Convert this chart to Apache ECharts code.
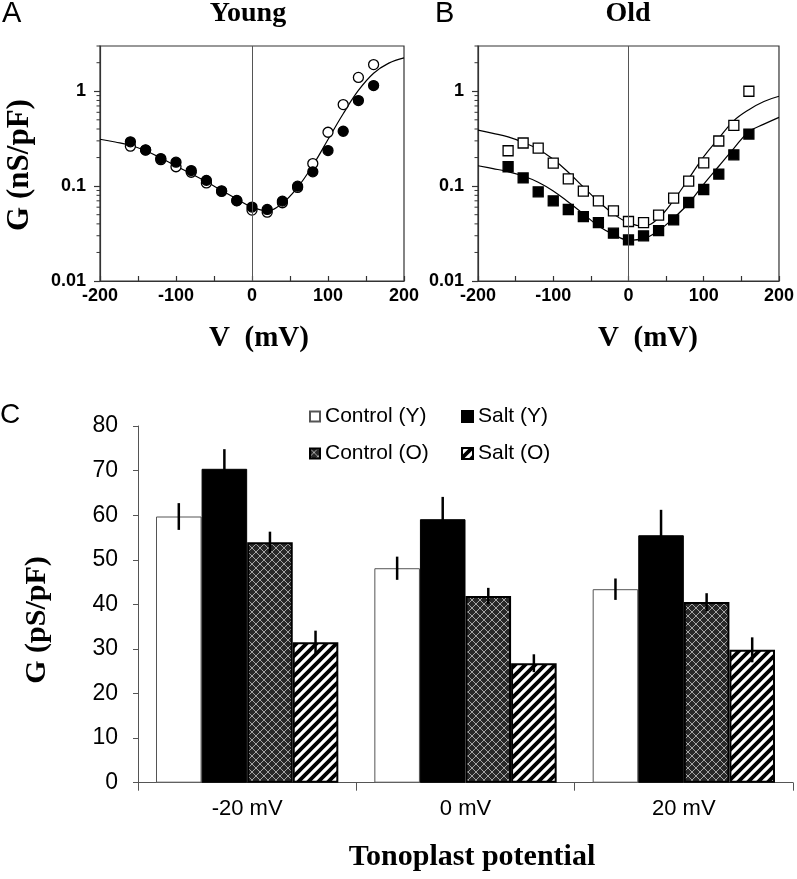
<!DOCTYPE html>
<html><head><meta charset="utf-8">
<script src="https://cdn.jsdelivr.net/npm/echarts@6/dist/echarts.min.js"></script>
<style>html,body{margin:0;padding:0;background:#fff}#c{width:797px;height:879px}</style>
</head><body><div id="c"></div>
<script>
// ---- Data: panels A & B (conductance vs voltage, log scale) ----
const voltages = [-160,-140,-120,-100,-80,-60,-40,-20,0,20,40,60,80,100,120,140,160];
const youngOpen   = [0.264,0.24,0.19,0.160,0.140,0.108,0.088,0.070,0.0559,0.0532,0.0668,0.0968,0.173,0.370,0.724,1.40,1.91];
const youngFilled = [0.293,0.241,0.195,0.179,0.146,0.115,0.0893,0.0706,0.0601,0.0568,0.0695,0.100,0.1415,0.237,0.379,0.798,1.147];
const oldOpen     = [0.236,0.285,0.252,0.175,0.119,0.0885,0.070,0.0549,0.0424,0.0413,0.0494,0.0747,0.113,0.176,0.299,0.438,1.0];
const oldFilled   = [0.160,0.122,0.0871,0.070,0.0567,0.0478,0.0413,0.0319,0.0271,0.0299,0.034,0.0441,0.0672,0.0922,0.134,0.214,0.354];
const fitV = [-200,-180,-160,-140,-120,-100,-80,-60,-40,-20,0,20,40,60,80,100,120,140,160,180,200];
const youngFit    = [0.312,0.292,0.270,0.236,0.198,0.163,0.135,0.111,0.090,0.073,0.060,0.055,0.066,0.097,0.165,0.31,0.58,1.02,1.55,1.98,2.25];
const oldFitUpper = [0.39,0.36,0.33,0.289,0.245,0.192,0.14,0.098,0.069,0.051,0.041,0.038,0.046,0.071,0.12,0.205,0.32,0.49,0.64,0.78,0.885];
const oldFitLower = [0.164,0.153,0.142,0.128,0.11,0.089,0.068,0.051,0.038,0.031,0.027,0.028,0.034,0.046,0.066,0.105,0.162,0.25,0.375,0.45,0.531];
const minorLogTicks = [0.02,0.03,0.04,0.05,0.06,0.07,0.08,0.09,0.2,0.3,0.4,0.5,0.6,0.7,0.8,0.9,2,3];

// ---- Data: panel C (bars) ----
const categories = ['-20 mV','0 mV','20 mV'];
const controlY = [59.7,48.1,43.4];   const controlYErr = [3.0,2.6,2.4];
const saltY    = [70.4,59.1,55.5];   const saltYErr    = [4.4,5.0,5.7];
const controlO = [53.9,41.9,40.5];   const controlOErr = [2.4,1.8,2.0];
const saltO    = [31.5,26.8,29.8];   const saltOErr    = [2.6,2.0,2.8];
const barNames = ['Control (Y)','Salt (Y)','Control (O)','Salt (O)'];

const pair = (xs, ys) => xs.map((x, i) => [x, ys[i]]);
const GAP = 0.165;

function crossPattern() {
  const c = document.createElement('canvas'); c.width = 8; c.height = 8;
  const g = c.getContext('2d');
  g.fillStyle = '#282828'; g.fillRect(0, 0, 8, 8);
  g.strokeStyle = '#c4c4c4'; g.lineWidth = 0.8;
  g.beginPath(); g.moveTo(0, 0); g.lineTo(8, 8); g.moveTo(8, 0); g.lineTo(0, 8); g.stroke();
  return c;
}
function hatchPattern() {
  const s = 10;
  const c = document.createElement('canvas'); c.width = s; c.height = s;
  const g = c.getContext('2d');
  g.fillStyle = '#fff'; g.fillRect(0, 0, s, s);
  g.strokeStyle = '#000'; g.lineWidth = 3.8;
  g.beginPath();
  g.moveTo(0, s); g.lineTo(s, 0);
  g.moveTo(-s / 2, s / 2); g.lineTo(s / 2, -s / 2);
  g.moveTo(s / 2, s * 1.5); g.lineTo(s * 1.5, s / 2);
  g.stroke();
  return c;
}

const chart = echarts.init(document.getElementById('c'), null, {renderer: 'canvas'});

const AXC = '#333';
function logY(gi) {
  return {
    type: 'log', logBase: 10, gridIndex: gi, min: 0.01, max: 3,
    axisLine: {show: true, onZero: false, lineStyle: {color: AXC, width: 1.2}},
    axisTick: {show: true, inside: false, length: 6, lineStyle: {color: AXC, width: 1.2}},
    axisLabel: {showMaxLabel: false, margin: 14, color: '#000',
      fontFamily: 'Liberation Sans', fontWeight: 'bold', fontSize: 18,
      formatter: v => String(+Number(v).toPrecision(3))},
    splitLine: {show: false}
  };
}
function linX(gi) {
  return {
    type: 'value', gridIndex: gi, min: -200, max: 200, interval: 50,
    axisLine: {show: true, onZero: false, lineStyle: {color: AXC, width: 1.2}},
    axisTick: {show: true, inside: true, length: 5, lineStyle: {color: AXC, width: 1.2}},
    axisLabel: {margin: 6, color: '#000', fontFamily: 'Liberation Sans', fontWeight: 'bold', fontSize: 18,
      formatter: v => (v % 100 === 0 ? String(v) : '')},
    splitLine: {show: false}
  };
}
function minorSeries(gi) {
  return {
    type: 'custom', xAxisIndex: gi, yAxisIndex: gi, clip: false, silent: true, z: 6,
    data: minorLogTicks.map(v => [-200, v]),
    encode: {x: 0, y: 1},
    renderItem: (params, api) => {
      const p = api.coord([api.value(0), api.value(1)]);
      return {type: 'line', shape: {x1: p[0] - 3.5, y1: p[1], x2: p[0], y2: p[1]},
        style: {stroke: AXC, lineWidth: 1}};
    }
  };
}
function fitLine(gi, ys, withZero) {
  const s = {
    type: 'line', xAxisIndex: gi, yAxisIndex: gi, data: pair(fitV, ys), smooth: 0.4,
    symbol: 'none', lineStyle: {color: '#000', width: 1.2}, z: 2, silent: true
  };
  if (withZero) {
    s.markLine = {silent: true, symbol: 'none', label: {show: false},
      lineStyle: {color: '#555', width: 1, type: 'solid'}, data: [{xAxis: 0}]};
  }
  return s;
}
function pts(gi, ys, symbol, filled) {
  return {
    type: 'scatter', xAxisIndex: gi, yAxisIndex: gi, data: pair(voltages, ys),
    symbol: symbol, symbolSize: 10, z: 3,
    itemStyle: {color: filled ? '#000' : '#fff', borderColor: '#000', borderWidth: 1.3, opacity: 1}
  };
}

const barStyles = [
  {color: '#fff', borderColor: '#555', borderWidth: 1},
  {color: '#000', borderColor: '#000', borderWidth: 1},
  {color: {image: crossPattern(), repeat: 'repeat'}, borderColor: '#000', borderWidth: 2},
  {color: {image: hatchPattern(), repeat: 'repeat'}, borderColor: '#000', borderWidth: 2}
];
const barVals = [controlY, saltY, controlO, saltO];
const barErrs = [controlYErr, saltYErr, controlOErr, saltOErr];

const barSeries = barVals.map((vals, i) => ({
  type: 'bar', name: barNames[i], xAxisIndex: 2, yAxisIndex: 2, data: vals,
  barGap: '0%', barCategoryGap: (GAP * 100) + '%', itemStyle: barStyles[i], z: 2
}));
const errData = [];
barVals.forEach((vals, bi) => vals.forEach((v, ci) => errData.push([ci, v, barErrs[bi][ci], bi])));

const serif = '"Liberation Serif", "Times New Roman", serif';
const sans = '"Liberation Sans", Arial, sans-serif';
const txt = (x, y, text, font, align, rot) => ({
  type: 'text', x: x, y: y, silent: true, rotation: rot || 0,
  style: {text: text, font: font, fill: '#000', align: align || 'center', verticalAlign: 'middle'}
});

chart.setOption({
  animation: false,
  backgroundColor: '#fff',
  grid: [
    {left: 100, top: 46, width: 304, height: 235, show: true, borderColor: AXC, borderWidth: 1.2, backgroundColor: 'transparent'},
    {left: 478, top: 46, width: 304, height: 235, show: true, borderColor: AXC, borderWidth: 1.2, backgroundColor: 'transparent'},
    {left: 138, right: 4, top: 426, height: 356.7}
  ],
  xAxis: [linX(0), linX(1), {
    type: 'category', gridIndex: 2, data: categories,
    axisLine: {show: true, lineStyle: {color: '#555', width: 1}},
    axisTick: {show: true, length: 8, alignWithLabel: false, lineStyle: {color: '#555'}},
    axisLabel: {margin: 15, color: '#000', fontFamily: 'Liberation Sans', fontSize: 22}
  }],
  yAxis: [logY(0), logY(1), {
    type: 'value', gridIndex: 2, min: 0, max: 80, interval: 10,
    axisLine: {show: true, onZero: false, lineStyle: {color: '#555', width: 1}},
    axisTick: {show: true, length: 5, lineStyle: {color: '#555'}},
    axisLabel: {margin: 20, color: '#000', fontFamily: 'Liberation Sans', fontSize: 23},
    splitLine: {show: false}
  }],
  legend: [
    {orient: 'vertical', left: 309, top: 406, padding: 0, itemWidth: 10, itemHeight: 10, itemGap: 16, icon: 'rect',
      data: ['Control (Y)', 'Control (O)'],
      textStyle: {fontFamily: 'Liberation Sans', fontSize: 21, color: '#000'}},
    {orient: 'vertical', left: 461, top: 406, padding: 0, itemWidth: 11, itemHeight: 11, itemGap: 16, icon: 'rect',
      data: ['Salt (Y)', 'Salt (O)'],
      textStyle: {fontFamily: 'Liberation Sans', fontSize: 21, color: '#000'}}
  ],
  series: [
    minorSeries(0), minorSeries(1),
    fitLine(0, youngFit, true),
    pts(0, youngOpen, 'circle', false),
    pts(0, youngFilled, 'circle', true),
    fitLine(1, oldFitUpper, true),
    fitLine(1, oldFitLower, false),
    pts(1, oldOpen, 'rect', false),
    pts(1, oldFilled, 'rect', true),
    ...barSeries,
    {
      type: 'custom', xAxisIndex: 2, yAxisIndex: 2, data: errData, encode: {x: 0, y: 1}, z: 5, silent: true,
      renderItem: (params, api) => {
        const ci = api.value(0), v = api.value(1), e = api.value(2), bi = api.value(3);
        const c = api.coord([ci, v]);
        const band = api.size([1, 0])[0];
        const bw = band * (1 - GAP) / 4;
        const x = c[0] - 2 * bw + bw * (bi + 0.5);
        const top = api.coord([ci, v + e])[1];
        const bot = api.coord([ci, v - e])[1];
        return {type: 'line', shape: {x1: x, y1: top, x2: x, y2: bot}, style: {stroke: '#000', lineWidth: 2.5}};
      }
    }
  ],
  graphic: [
    txt(2, 14, 'A', 'normal 29px ' + sans, 'left'),
    txt(435, 14, 'B', 'normal 29px ' + sans, 'left'),
    txt(0, 415, 'C', 'normal 28px ' + sans, 'left'),
    txt(248, 14, 'Young', 'bold 28px ' + serif),
    txt(628, 14, 'Old', 'bold 28px ' + serif),
    txt(259, 339, 'V  (mV)', 'bold 29px ' + serif),
    txt(648, 339, 'V  (mV)', 'bold 29px ' + serif),
    txt(20, 165, 'G (nS/pF)', 'bold 31px ' + serif, 'center', Math.PI / 2),
    txt(37, 620, 'G (pS/pF)', 'bold 30px ' + serif, 'center', Math.PI / 2),
    txt(472, 857, 'Tonoplast potential', 'bold 30px ' + serif)
  ]
});
</script>
</body></html>
